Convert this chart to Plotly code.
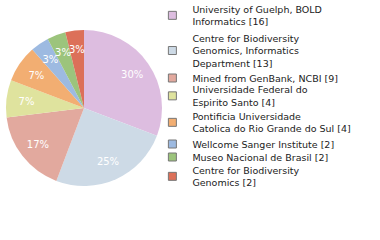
import plotly.graph_objects as go

labels = [
    "University of Guelph, BOLD<br>Informatics",
    "Centre for Biodiversity<br>Genomics, Informatics<br>Department",
    "Mined from GenBank, NCBI",
    "Universidade Federal do<br>Espirito Santo",
    "Pontificia Universidade<br>Catolica do Rio Grande do Sul",
    "Wellcome Sanger Institute",
    "Museo Nacional de Brasil",
    "Centre for Biodiversity<br>Genomics",
]
values = [16, 13, 9, 4, 4, 2, 2, 2]
pct_labels = ["30%", "25%", "17%", "7%", "7%", "3%", "3%", "3%"]
colors = ["#DDBDE0", "#CDDAE6", "#E2A99E", "#DFE39E", "#F2AE72", "#9DBAE1", "#9CC47C", "#DC7059"]

# layout: legend entry anchor positions (px from top), label ring scale per slice
legend_pos = [15.5, 51, 78, 96, 122.5, 144, 157, 176.5]
text_ring = [1.0, 1.0, 1.0, 0.92, 0.92, 0.85, 0.85, 0.85]

W, H = 380, 240
cx, cy, R = 84, 108, 78

def dom(r):
    return dict(x=[(cx - r) / W, (cx + r) / W], y=[(H - cy - r) / H, (H - cy + r) / H])

fig = go.Figure()
fig.add_trace(go.Pie(
    labels=labels, values=values, textinfo="none",
    sort=False, direction="clockwise", rotation=0,
    marker=dict(colors=colors, line=dict(width=0)),
    domain=dom(R), showlegend=False, hoverinfo="label+value",
))
for ring in sorted(set(text_ring), reverse=True):
    fig.add_trace(go.Pie(
        labels=labels, values=values,
        text=[t if s == ring else "" for t, s in zip(pct_labels, text_ring)], textinfo="text",
        sort=False, direction="clockwise", rotation=0, hole=0.5,
        marker=dict(colors=["rgba(0,0,0,0)"] * len(values), line=dict(width=0)),
        textfont=dict(family="DejaVu Sans", size=10, color="white"),
        textposition="inside", insidetextorientation="horizontal",
        domain=dom(R * ring), showlegend=False, hoverinfo="skip",
    ))

legends = {}
for i, (lab, v, c) in enumerate(zip(labels, values, colors)):
    key = "legend" if i == 0 else f"legend{i + 1}"
    fig.add_trace(go.Scatter(
        x=[None], y=[None], mode="markers", name=f"{lab} [{v}]", legend=key,
        marker=dict(symbol="square", size=8, color=c, line=dict(color="#777777", width=1)),
    ))
    legends[key] = dict(
        x=0.401, y=1 - legend_pos[i] / H, xanchor="left", yanchor="middle",
        font=dict(family="DejaVu Sans", size=9.5, color="#222222"),
        bgcolor="rgba(0,0,0,0)",
    )

fig.update_layout(
    width=W, height=H, margin=dict(l=0, r=0, t=0, b=0, autoexpand=False),
    paper_bgcolor="white", plot_bgcolor="white",
    xaxis=dict(visible=False), yaxis=dict(visible=False),
    uniformtext=dict(minsize=10, mode="show"),
    **legends,
)
fig.write_html("out.html")
